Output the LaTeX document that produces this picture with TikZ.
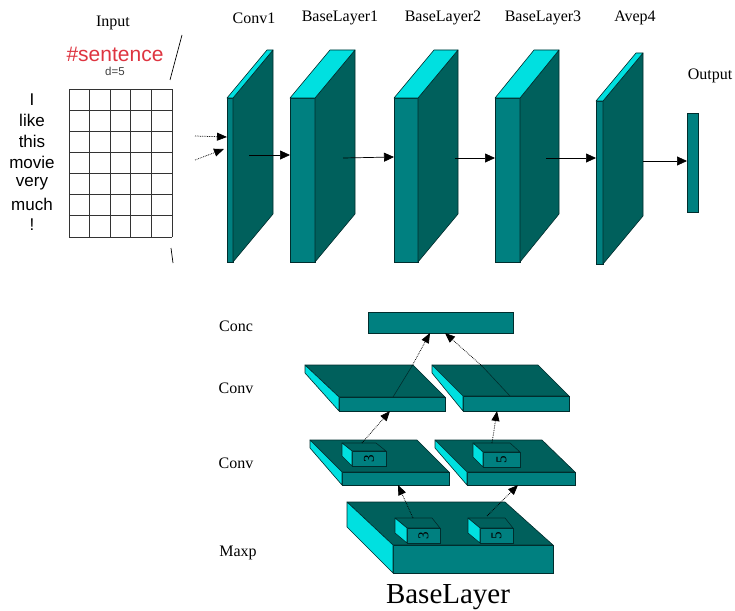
\documentclass[tikz,border=0pt]{standalone}
\usepackage{fontspec}
\setmainfont{Liberation Serif}
\newfontfamily\arialfont{Liberation Sans}
\usetikzlibrary{arrows.meta}

\definecolor{frontteal}{RGB}{0,128,128}
\definecolor{sideteal}{RGB}{0,96,92}
\definecolor{topcyan}{RGB}{0,224,224}
\definecolor{edgeteal}{RGB}{0,45,45}
\definecolor{wordred}{RGB}{222,52,64}

\tikzset{
  frontface/.style={draw=edgeteal, fill=frontteal, line width=0.6pt, inner sep=0pt, outer sep=0pt, rectangle},
  sideface/.style={draw=edgeteal, fill=sideteal, line width=0.6pt, line join=round},
  topface/.style={draw=edgeteal, fill=topcyan, line width=0.6pt, line join=round},
  flowarrow/.style={draw=black, line width=0.7pt, -{Triangle[length=10pt,width=9pt]}},
  dotarrow/.style={draw=black, line width=0.75pt, densely dotted, -{Triangle[length=10pt,width=8pt]}},
  caption/.style={font=\fontsize{16}{18}\selectfont, inner sep=0pt},
  wordlabel/.style={font=\arialfont\fontsize{17}{20}\selectfont, inner sep=0pt},
  digit/.style={font=\fontsize{15}{16}\selectfont, rotate=90, inner sep=0pt, text=black},
}

% layered block: name, left x, top y, width, height, depth dx, depth dy
\newcommand\layerblock[7]{%
  \node[frontface, minimum width=#4pt, minimum height=#5pt, anchor=north west] (#1) at (#2,#3) {};
  \filldraw[sideface] (#1.north east) -- ++(#6,-#7) -- ++(0,#5) -- (#1.south east) -- cycle;
  \filldraw[topface] (#1.north west) -- ++(#6,-#7) -- ++(#4,0) -- (#1.north east) -- cycle;
}

% flat slab: name, back-left x, back-right x, back y, front-left x, front-right x, front y, front bottom y, back-left bottom y
\newcommand\flatslab[9]{%
  \filldraw[sideface] (#2,#4) -- (#3,#4) -- (#6,#7) -- (#5,#7) -- cycle;
  \node[frontface, anchor=north west, minimum width={(#6-#5)*1pt}, minimum height={(#8-#7)*1pt}] (#1) at (#5,#7) {};
  \filldraw[topface] (#2,#4) -- (#5,#7) -- (#5,#8) -- (#2,#9) -- cycle;
}

\begin{document}
\begin{tikzpicture}[x=1pt, y=-1pt]
\useasboundingbox (0,0) rectangle (735,610);

% ---------- input sentence ----------
\node[caption] (inputlbl) at (113,23) {Input};
\node[font=\arialfont\fontsize{21}{24}\selectfont, text=wordred, inner sep=0pt] (sent) at (115,54) {\#sentence};
\node[font=\arialfont\fontsize{11.5}{13}\selectfont, text=black!75, inner sep=0pt] (dim) at (115,71) {d=5};

\foreach \w [count=\i from 0] in {I,like,this,movie,very,much,!} {
  \node[wordlabel] (word\i) at (32,{100+20.8*\i}) {\w};
}

\foreach \i in {0,...,7} {
  \draw[black!80, line width=0.8pt] (69,{89+148/7*\i}) -- (172,{89+148/7*\i});
}
\foreach \j in {0,...,5} {
  \draw[black!80, line width=0.8pt] ({69+103/5*\j},89) -- ({69+103/5*\j},237);
}
\draw[line width=0.7pt] (182,35) -- (170,80);
\draw[line width=0.7pt] (171,248) -- (173,263);

% ---------- layer stack ----------
\layerblock{conv}{227}{98}{6}{164}{40}{48}
\layerblock{base1}{290}{98}{25}{164}{40}{48}
\layerblock{base2}{394}{98}{24}{164}{40}{48}
\layerblock{base3}{495}{98}{25}{164}{39}{48}
\layerblock{avep}{596}{101}{7}{163}{40}{48}
\node[frontface, minimum width=11pt, minimum height=99pt, anchor=north west] (out) at (687,113) {};

\node[caption] (convlbl) at (254,18) {Conv1};
\node[caption] (base1lbl) at (340,18) {BaseLayer1};
\node[caption] (base2lbl) at (443,18) {BaseLayer2};
\node[caption] (base3lbl) at (543,18) {BaseLayer3};
\node[caption] (aveplbl) at (635,18) {Avep4};
\node[caption] (outlbl) at (710,76) {Output};

\coordinate (in1) at (195,136);
\coordinate (in2) at (195,160);
\draw[dotarrow] (in1) -- (conv.west |- 0,137);
\draw[dotarrow] (in2) -- (224,149);

\coordinate (s1) at (249,155);
\coordinate (s2) at (343,158);
\coordinate (s3) at (455,158);
\coordinate (s4) at (546,158);
\coordinate (s5) at (643,161);
\draw[flowarrow] (s1) -- (base1.west |- s1);
\draw[flowarrow] (s2) -- (base2.west |- 0,157);
\draw[flowarrow] (s3) -- (base3.west |- s3);
\draw[flowarrow] (s4) -- (avep.west |- s4);
\draw[flowarrow] (s5) -- (out.west |- s5);

% ---------- base layer detail ----------
\node[caption] (conclbl) at (236,326) {Conc};
\node[caption] (conv2lbl) at (236,388) {Conv};
\node[caption] (conv1lbl) at (236,463) {Conv};
\node[caption] (maxplbl) at (238,553) {Maxp};
\node[caption, font=\fontsize{29}{32}\selectfont] (title) at (448,597) {BaseLayer};

\node[frontface, minimum width=145pt, minimum height=21pt, anchor=north west] (conc) at (368,312) {};

% upper convolution slabs
\flatslab{upl}{305}{413}{365}{339}{445}{397}{411}{373}
\flatslab{upr}{432}{538}{365}{463}{569}{396}{411}{373}
\coordinate (seamL) at (412,366);
\coordinate (seamR) at (482,366);
\draw[edgeteal, line width=0.6pt] (seamL) -- (393,397);
\draw[edgeteal, line width=0.6pt] (seamR) -- (510,396);

% lower convolution slabs
\flatslab{lowl}{310}{417}{440}{342}{449}{472}{485}{448}
\flatslab{lowr}{435}{542}{440}{467}{575}{472}{485}{448}

% filter boxes on the lower convolution slabs
\flatslab{kl}{342}{376}{443}{352}{386}{451}{466}{456}
\flatslab{kr}{473}{510}{443}{483}{520}{452}{467}{457}
\node[digit] (kldigit) at (kl.center) {3};
\node[digit] (krdigit) at (kr.center) {5};

% max pooling slab and its filter boxes
\flatslab{maxp}{347}{505}{502}{393}{553}{545}{573}{527}
\flatslab{ml}{395}{432}{518}{407}{440}{528}{543}{533}
\flatslab{mr}{468}{505}{518}{480}{513}{528}{543}{533}
\node[digit] (mldigit) at (ml.center) {3};
\node[digit] (mrdigit) at (mr.center) {5};

% data flow inside the base layer
\coordinate (mlt) at (413,518);
\coordinate (mrt) at (487,516);
\coordinate (klt) at (362,443);
\coordinate (krt) at (492,443);
\draw[dotarrow] (mlt) -- (lowl.south -| 398,0);
\draw[dotarrow] (mrt) -- (lowl.south -| 518,0);
\draw[dotarrow] (klt) -- (upl.south -| 390,0);
\draw[dotarrow] (krt) -- (upl.south -| 497,0);
\draw[dotarrow] (seamL) -- (conc.south -| 430,0);
\draw[dotarrow] (seamR) -- (conc.south -| 445,0);
\end{tikzpicture}
\end{document}
